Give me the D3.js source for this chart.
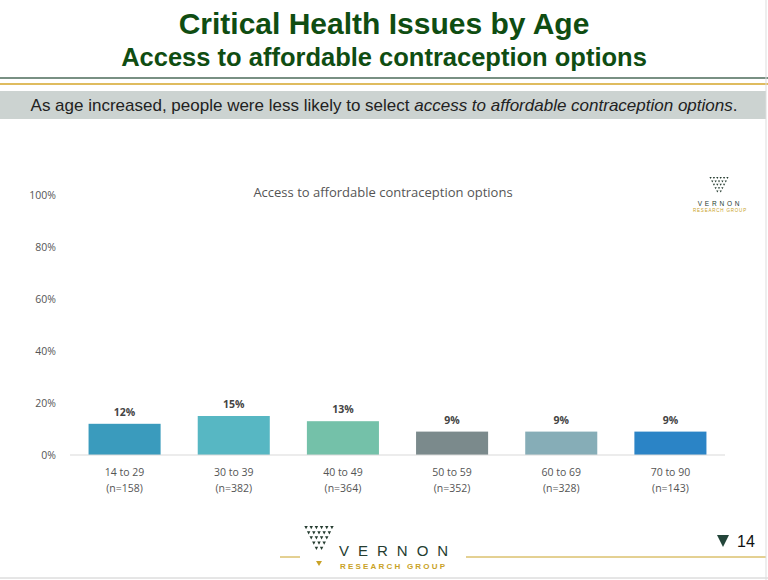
<!DOCTYPE html>
<html><head><meta charset="utf-8">
<script src="https://cdn.jsdelivr.net/npm/d3@7"></script>
<style>body{margin:0;background:#fff}svg{display:block}</style>
</head><body>
<script>
var categories = ["14 to 29", "30 to 39", "40 to 49", "50 to 59", "60 to 69", "70 to 90"];
var sampleSizes = ["(n=158)", "(n=382)", "(n=364)", "(n=352)", "(n=328)", "(n=143)"];
var values = [12, 15, 13, 9, 9, 9];
var barColors = ["#3a9bbd", "#57b7c3", "#74c1a9", "#7b8a8c", "#86adb7", "#2b84c6"];
var yTicks = [0, 20, 40, 60, 80, 100];

var svg = d3.select("body").append("svg").attr("width", 768).attr("height", 580);

// header
svg.append("text").attr("x", 384).attr("y", 34).attr("text-anchor", "middle")
  .attr("font-family", "Liberation Sans, Arial").attr("font-weight", "bold")
  .attr("font-size", 30).attr("fill", "#0f4d12").text("Critical Health Issues by Age");
svg.append("text").attr("x", 384).attr("y", 66).attr("text-anchor", "middle")
  .attr("font-family", "Liberation Sans, Arial").attr("font-weight", "bold")
  .attr("font-size", 25.5).attr("fill", "#0f4d12").text("Access to affordable contraception options");
svg.append("line").attr("x1", 0).attr("x2", 768).attr("y1", 78).attr("y2", 78).attr("stroke", "#4d6b5a").attr("stroke-width", 1.5);
svg.append("line").attr("x1", 0).attr("x2", 768).attr("y1", 84).attr("y2", 84).attr("stroke", "#d4a62a").attr("stroke-width", 1.5);
svg.append("rect").attr("x", 0).attr("y", 91).attr("width", 766).attr("height", 28).attr("fill", "#ccd3d1");
var sub = svg.append("text").attr("x", 384).attr("y", 111).attr("text-anchor", "middle")
  .attr("font-family", "Liberation Sans, Arial").attr("font-size", 17).attr("fill", "#222");
sub.append("tspan").text("As age increased, people were less likely to select ");
sub.append("tspan").attr("font-style", "italic").text("access to affordable contraception options");
sub.append("tspan").text(".");

// chart
var x = d3.scaleBand().domain(categories).range([70, 725]).paddingInner(0.34).paddingOuter(0.17);
var y = d3.scaleLinear().domain([0, 100]).range([455, 195]);

svg.append("text").attr("x", 383).attr("y", 197).attr("text-anchor", "middle")
  .attr("font-family", "Open Sans, sans-serif").attr("font-size", 13).attr("fill", "#555")
  .text("Access to affordable contraception options");

svg.selectAll(".ytick").data(yTicks).enter().append("text")
  .attr("x", 56).attr("y", d => y(d) + 4).attr("text-anchor", "end")
  .attr("font-family", "Open Sans, sans-serif").attr("font-size", 10.5).attr("fill", "#555")
  .text(d => d + "%");

svg.selectAll(".bar").data(values).enter().append("rect")
  .attr("x", (d, i) => x(categories[i])).attr("width", x.bandwidth())
  .attr("y", d => y(d)).attr("height", d => y(0) - y(d))
  .attr("fill", (d, i) => barColors[i]);

svg.selectAll(".lbl").data(values).enter().append("text")
  .attr("x", (d, i) => x(categories[i]) + x.bandwidth() / 2).attr("y", d => y(d) - 8)
  .attr("text-anchor", "middle").attr("font-family", "Open Sans, sans-serif")
  .attr("font-weight", "bold").attr("font-size", 10.5).attr("fill", "#444")
  .text(d => d + "%");

svg.append("line").attr("x1", 70).attr("x2", 725).attr("y1", y(0)).attr("y2", y(0)).attr("stroke", "#d9d9d9");

categories.forEach(function (c, i) {
  var cx = x(c) + x.bandwidth() / 2;
  svg.append("text").attr("x", cx).attr("y", 476).attr("text-anchor", "middle")
    .attr("font-family", "Open Sans, sans-serif").attr("font-size", 10.5).attr("fill", "#555").text(c);
  svg.append("text").attr("x", cx).attr("y", 492).attr("text-anchor", "middle")
    .attr("font-family", "Open Sans, sans-serif").attr("font-size", 10.5).attr("fill", "#555").text(sampleSizes[i]);
});

// small logo in chart
function logo(cx, top, s, rows) {
  for (var r = 0; r < rows; r++) {
    var n = rows + 1 - r;
    for (var k = 0; k < n; k++) {
      var px = cx + (k - (n - 1) / 2) * 4.5 * s, py = top + r * 4.5 * s;
      svg.append("path").attr("d", "M" + (px - 1.5 * s) + "," + py + "L" + (px + 1.5 * s) + "," + py + "L" + px + "," + (py + 2.8 * s) + "Z")
        .attr("fill", "#253c30");
    }
  }
}
logo(719, 177, 0.75, 5);
svg.append("text").attr("x", 720).attr("y", 206).attr("text-anchor", "middle").attr("font-family", "Liberation Sans, Arial")
  .attr("font-size", 6.5).attr("letter-spacing", 2.8).attr("fill", "#253c30").text("VERNON");
svg.append("text").attr("x", 720).attr("y", 212).attr("text-anchor", "middle").attr("font-family", "Liberation Sans, Arial")
  .attr("font-size", 4.5).attr("letter-spacing", 0.8).attr("fill", "#c9a227").text("RESEARCH GROUP");

// footer
svg.append("line").attr("x1", 280).attr("x2", 300).attr("y1", 557).attr("y2", 557).attr("stroke", "#c9a227");
svg.append("line").attr("x1", 466).attr("x2", 766).attr("y1", 557).attr("y2", 557).attr("stroke", "#c9a227");
logo(319, 526, 1.15, 5);
svg.append("path").attr("d", "M316,561L322,561L319,566Z").attr("fill", "#c9a227");
svg.append("text").attr("x", 339).attr("y", 556).attr("font-family", "Liberation Sans, Arial")
  .attr("font-size", 15).attr("letter-spacing", 9).attr("fill", "#253c30").text("VERNON");
svg.append("text").attr("x", 340).attr("y", 569).attr("font-family", "Liberation Sans, Arial")
  .attr("font-size", 8).attr("font-weight", "bold").attr("letter-spacing", 2.2).attr("fill", "#c9a227").text("RESEARCH GROUP");
svg.append("path").attr("d", "M717,535L729,535L723,547Z").attr("fill", "#23453a");
svg.append("text").attr("x", 737).attr("y", 547).attr("font-family", "Liberation Sans, Arial")
  .attr("font-size", 16).attr("fill", "#111").text("14");
svg.append("line").attr("x1", 0).attr("x2", 768).attr("y1", 578).attr("y2", 578).attr("stroke", "#ccc");
svg.append("line").attr("x1", 766).attr("x2", 766).attr("y1", 0).attr("y2", 580).attr("stroke", "#ddd");
</script>
</body></html>
